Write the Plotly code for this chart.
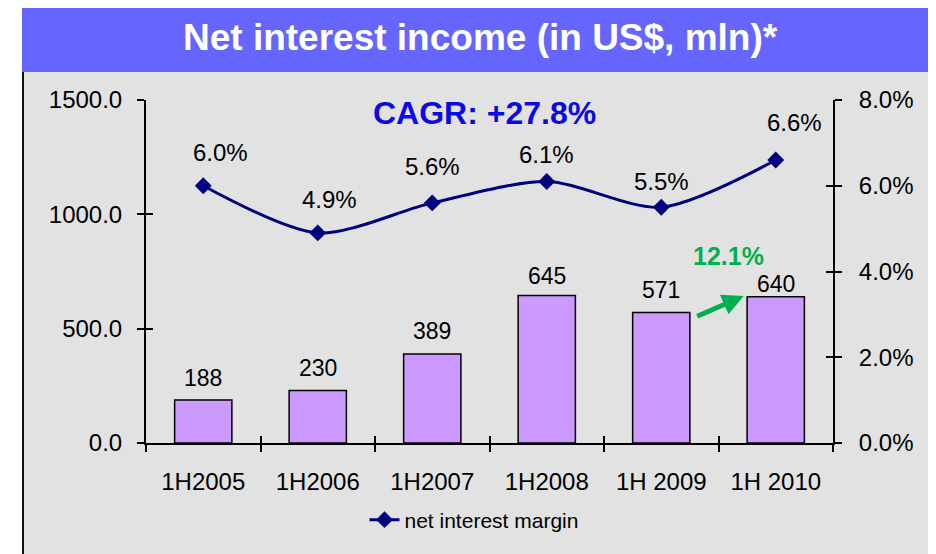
import plotly.graph_objects as go

# ---- data ----
categories = ["1H2005", "1H2006", "1H2007", "1H2008", "1H 2009", "1H 2010"]
net_interest_income = [188, 230, 389, 645, 571, 640]
net_interest_margin = [6.0, 4.9, 5.6, 6.1, 5.5, 6.6]
left_ticks = [0, 500, 1000, 1500]
right_ticks = [0, 2, 4, 6, 8]
title_text = "Net interest income (in US$, mln)*"
cagr_text = "CAGR: +27.8%"
growth_text = "12.1%"
legend_name = "net interest margin"

# ---- style (label offsets in pixels) ----
bar_label_shift = [22, 22, 23, 20, 22, 13]
line_label_xshift = [17, 12, 0, 0, 0, 19]
line_label_yshift = [33, 33, 36, 27, 26, 38]

FONT = "Arial, 'Liberation Sans', sans-serif"
# page has an 8px body margin, so the figure is drawn 8px lower/righter
OFF = 8
SCREEN_W, SCREEN_H = 936, 554
W, H = SCREEN_W - OFF, SCREEN_H - OFF
PLOT_L, PLOT_R, PLOT_T, PLOT_B = 146, 833, 100, 443  # screen pixels
ML, MR, MT, MB = PLOT_L - OFF, SCREEN_W - PLOT_R, PLOT_T - OFF, SCREEN_H - PLOT_B
PW, PH = PLOT_R - PLOT_L, PLOT_B - PLOT_T


def px_x(px):
    return (px - PLOT_L) / PW


def px_y(py):
    return (PLOT_B - py) / PH


n = len(categories)
idx = list(range(n))
boundaries = [i - 0.5 for i in range(n + 1)]

fig = go.Figure()
fig.add_trace(go.Bar(
    x=categories, y=net_interest_income, width=0.5,
    marker=dict(color="#CC99FF", line=dict(color="black", width=1.5)),
    showlegend=False, hoverinfo="skip", xaxis="x", yaxis="y",
))
fig.add_trace(go.Scatter(
    x=categories, y=net_interest_margin, mode="lines+markers",
    name=legend_name,
    line=dict(color="#000080", width=3, shape="spline", smoothing=0.8),
    marker=dict(symbol="diamond", size=13, color="#000080"),
    xaxis="x", yaxis="y2", hoverinfo="skip",
))
# invisible carriers so the overlay (inside-tick) axes are drawn
fig.add_trace(go.Scatter(
    x=idx, y=net_interest_income, mode="markers", marker=dict(opacity=0),
    xaxis="x2", yaxis="y3", showlegend=False, hoverinfo="skip",
))
fig.add_trace(go.Scatter(
    x=idx, y=net_interest_margin, mode="markers", marker=dict(opacity=0),
    xaxis="x2", yaxis="y4", showlegend=False, hoverinfo="skip",
))

annotations = []
for c, v, s in zip(categories, net_interest_income, bar_label_shift):
    annotations.append(dict(x=c, y=v, xref="x", yref="y", text=str(v),
                            showarrow=False, yshift=s,
                            font=dict(family=FONT, size=23, color="black")))
for c, v, xs, ys in zip(categories, net_interest_margin, line_label_xshift, line_label_yshift):
    annotations.append(dict(x=c, y=v, xref="x", yref="y2", text=f"{v:.1f}%",
                            showarrow=False, xshift=xs, yshift=ys,
                            font=dict(family=FONT, size=24, color="black")))

# title
annotations.append(dict(x=px_x(480), y=px_y(38), xref="paper", yref="paper",
                        xanchor="center", yanchor="middle",
                        text=f"<b>{title_text}</b>", showarrow=False,
                        font=dict(family=FONT, size=37, color="white")))
# CAGR
annotations.append(dict(x=px_x(484), y=px_y(113), xref="paper", yref="paper",
                        xanchor="center", yanchor="middle",
                        text=f"<b>{cagr_text}</b>", showarrow=False,
                        font=dict(family=FONT, size=32, color="#0A0AE6")))
# growth
annotations.append(dict(x=px_x(728), y=px_y(256), xref="paper", yref="paper",
                        xanchor="center", yanchor="middle",
                        text=f"<b>{growth_text}</b>", showarrow=False,
                        font=dict(family=FONT, size=25, color="#00B050")))
# arrow
annotations.append(dict(x=4.72, y=643, xref="x", yref="y", text="",
                        showarrow=True, ax=-48, ay=21, arrowhead=2,
                        arrowsize=0.85, arrowwidth=5, arrowcolor="#00B050"))

shapes = [
    # grey panel
    dict(type="rect", xref="paper", yref="paper", x0=px_x(22), x1=px_x(945),
         y0=px_y(565), y1=px_y(72), fillcolor="#E2E2E2",
         line=dict(width=0), layer="below"),
    # left border of panel
    dict(type="line", xref="paper", yref="paper", x0=px_x(23), x1=px_x(23),
         y0=px_y(565), y1=px_y(72), line=dict(color="#111111", width=2),
         layer="below"),
    # title bar
    dict(type="rect", xref="paper", yref="paper", x0=px_x(22), x1=px_x(945),
         y0=px_y(72), y1=px_y(7), fillcolor="#6666FF",
         line=dict(width=0), layer="below"),
]

axis_common = dict(showgrid=False, zeroline=False, tickcolor="black",
                   tickwidth=2, ticklen=7)
tickfont = dict(family=FONT, size=24, color="black")

fig.update_layout(
    width=W, height=H,
    margin=dict(l=ML, r=MR, t=MT, b=MB, autoexpand=False),
    paper_bgcolor="white", plot_bgcolor="rgba(0,0,0,0)",
    font=dict(family=FONT, color="black"),
    hovermode=False,
    bargap=0.5,
    xaxis=dict(type="category", categoryorder="array", categoryarray=categories,
               range=[-0.5, n - 0.5], tickson="boundaries", ticks="outside",
               showline=True, linecolor="black", linewidth=2,
               tickfont=tickfont, ticklabelstandoff=16, **axis_common),
    xaxis2=dict(overlaying="x", anchor="y", side="bottom", range=[-0.5, n - 0.5],
                tickvals=boundaries, ticks="inside", showticklabels=False,
                showline=False, **axis_common),
    yaxis=dict(range=[0, 1500], tickvals=left_ticks, tickformat=".1f",
               ticks="outside", showline=True, linecolor="black", linewidth=2,
               tickfont=tickfont, ticklabelstandoff=10, **axis_common),
    yaxis3=dict(overlaying="y", anchor="x", side="left", range=[0, 1500],
                tickvals=left_ticks, ticks="inside", showticklabels=False,
                showline=False, **axis_common),
    yaxis2=dict(overlaying="y", anchor="x", side="right", range=[0, 8],
                tickvals=right_ticks, ticktext=[f"{t:.1f}%" for t in right_ticks],
                ticks="outside", showline=True, linecolor="black", linewidth=2,
                tickfont=tickfont, ticklabelstandoff=12, **axis_common),
    yaxis4=dict(overlaying="y", anchor="x", side="right", range=[0, 8],
                tickvals=right_ticks, ticks="inside", showticklabels=False,
                showline=False, **axis_common),
    legend=dict(orientation="h", x=px_x(474), xanchor="center",
                y=px_y(520), yanchor="middle", bgcolor="rgba(0,0,0,0)",
                font=dict(family=FONT, size=21, color="black")),
    annotations=annotations,
    shapes=shapes,
    showlegend=True,
)

fig.write_html("out.html")
